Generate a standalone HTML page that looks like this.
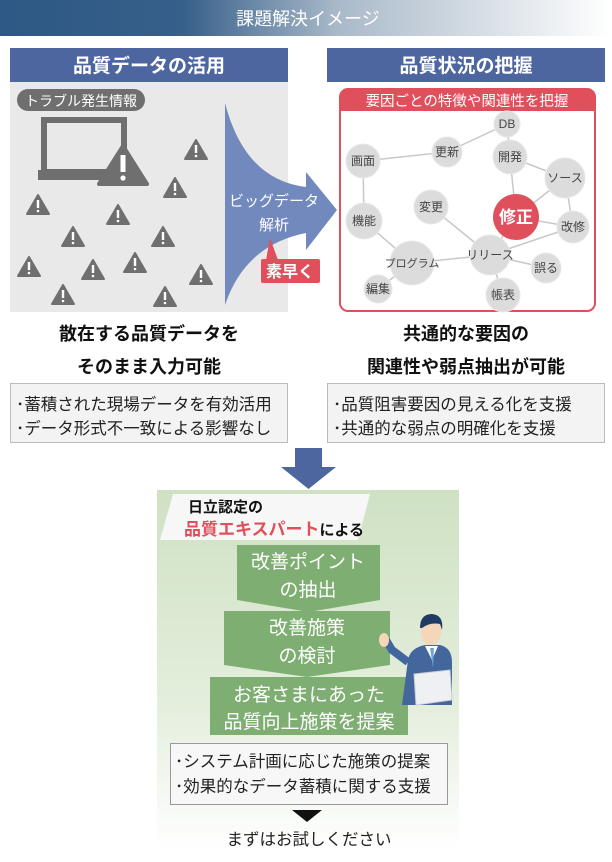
<!DOCTYPE html>
<html><head><meta charset="utf-8"><style>
html,body{margin:0;padding:0;background:#fff;}
svg{display:block;font-family:"Liberation Sans","Noto Sans CJK JP",sans-serif;}
</style></head><body>
<svg width="612" height="862" viewBox="0 0 612 862" xmlns="http://www.w3.org/2000/svg">
<defs>
<linearGradient id="hd" x1="0" x2="1" y1="0" y2="0">
<stop offset="0" stop-color="#2e5885"/><stop offset="0.3" stop-color="#375f8a"/><stop offset="0.55" stop-color="#a9b9c9"/><stop offset="1" stop-color="#ffffff"/>
</linearGradient>
<linearGradient id="gr" x1="0" x2="0" y1="0" y2="1">
<stop offset="0" stop-color="#cfe1c3"/><stop offset="0.6" stop-color="#e4eedd"/><stop offset="1" stop-color="#ffffff"/>
</linearGradient>
<g id="w"><path d="M0,-10 L11,9 L-11,9 Z" fill="#6f6f6f" stroke="#6f6f6f" stroke-width="2" stroke-linejoin="round"/><rect x="-1.2" y="-5" width="2.4" height="8" fill="#fff"/><circle cx="0" cy="6" r="1.3" fill="#fff"/></g>
</defs>
<rect x="0" y="0" width="612" height="36" fill="url(#hd)"/>
<text x="308" y="25" text-anchor="middle" fill="#fff" font-size="18">課題解決イメージ</text>

<rect x="10" y="48" width="278" height="34" fill="#4e66a0"/>
<text x="149" y="72" text-anchor="middle" fill="#fff" font-size="19" font-weight="bold">品質データの活用</text>
<rect x="10" y="82" width="278" height="230" fill="#e9e9e9"/>
<rect x="17" y="89" width="128" height="22" rx="11" fill="#6f6f6f"/>
<text x="81" y="106" text-anchor="middle" fill="#fff" font-size="14">トラブル発生情報</text>
<rect x="44" y="120" width="80" height="52" fill="none" stroke="#6f6f6f" stroke-width="6"/>
<rect x="38" y="170" width="70" height="10" fill="#6f6f6f"/>
<path d="M123,146 L147,184 L99,184 Z" fill="#6f6f6f" stroke="#6f6f6f" stroke-width="4" stroke-linejoin="round"/>
<rect x="120.5" y="155" width="5" height="17" fill="#fff"/><circle cx="123" cy="178" r="2.6" fill="#fff"/>
<use href="#w" x="196" y="150"/><use href="#w" x="175" y="188"/><use href="#w" x="38" y="205"/>
<use href="#w" x="118" y="215"/><use href="#w" x="73" y="237"/><use href="#w" x="163" y="237"/>
<use href="#w" x="29" y="267"/><use href="#w" x="93" y="270"/><use href="#w" x="135" y="263"/>
<use href="#w" x="201" y="275"/><use href="#w" x="63" y="295"/><use href="#w" x="165" y="297"/>
<path d="M225,103 Q245,180 306,187 L306,172 L337,210 L306,250 L306,233 Q245,245 225,305 Z" fill="#7189bd"/>
<text x="274" y="206" text-anchor="middle" fill="#fff" font-size="15">ビッグデータ</text>
<text x="274" y="230" text-anchor="middle" fill="#fff" font-size="15">解析</text>
<path d="M266,260 L270,238 L278,260 Z" fill="#e0505c"/>
<rect x="261" y="259" width="59" height="24" rx="2" fill="#e0505c"/>
<text x="290" y="277" text-anchor="middle" fill="#fff" font-size="16" font-weight="bold">素早く</text>

<rect x="327" y="48" width="278" height="34" fill="#4e66a0"/>
<text x="466" y="72" text-anchor="middle" fill="#fff" font-size="19" font-weight="bold">品質状況の把握</text>
<rect x="340" y="89" width="255" height="222" rx="8" fill="#fff" stroke="#e0505c" stroke-width="2"/>
<path d="M340,111 L340,97 Q340,89 348,89 L587,89 Q595,89 595,97 L595,111 Z" fill="#e0505c"/>
<text x="467" y="106" text-anchor="middle" fill="#fff" font-size="14.5">要因ごとの特徴や関連性を把握</text>
<g stroke="#c8c8c8" stroke-width="1.5">
<line x1="507" y1="124" x2="447" y2="152"/><line x1="507" y1="124" x2="510" y2="157"/>
<line x1="447" y1="152" x2="363" y2="161"/><line x1="363" y1="161" x2="364" y2="221"/>
<line x1="510" y1="157" x2="565" y2="178"/><line x1="510" y1="157" x2="516" y2="217"/>
<line x1="565" y1="178" x2="516" y2="217"/><line x1="565" y1="178" x2="573" y2="227"/>
<line x1="516" y1="217" x2="573" y2="227"/><line x1="516" y1="217" x2="490" y2="255"/>
<line x1="431" y1="207" x2="490" y2="255"/><line x1="364" y1="221" x2="412" y2="263"/>
<line x1="412" y1="263" x2="490" y2="255"/><line x1="412" y1="263" x2="378" y2="289"/>
<line x1="490" y1="255" x2="573" y2="227"/><line x1="490" y1="255" x2="546" y2="268"/>
<line x1="490" y1="255" x2="503" y2="295"/>
</g>
<g fill="#dcdcdc" stroke="#e8e8e8" stroke-width="1">
<circle cx="507" cy="124" r="13"/><circle cx="447" cy="152" r="15"/><circle cx="363" cy="161" r="17"/>
<circle cx="510" cy="157" r="17"/><circle cx="565" cy="178" r="20"/><circle cx="431" cy="207" r="17"/>
<circle cx="364" cy="221" r="18"/><circle cx="573" cy="227" r="16"/><circle cx="490" cy="255" r="20"/>
<circle cx="412" cy="263" r="22"/><circle cx="546" cy="268" r="15"/><circle cx="378" cy="289" r="14"/>
<circle cx="503" cy="295" r="17"/>
</g>
<circle cx="516" cy="217" r="23" fill="#e0505c"/>
<g font-size="12" fill="#444" text-anchor="middle">
<text x="507" y="128">DB</text><text x="447" y="156">更新</text><text x="363" y="165">画面</text>
<text x="510" y="161">開発</text><text x="565" y="182">ソース</text><text x="431" y="211">変更</text>
<text x="364" y="225">機能</text><text x="573" y="231">改修</text><text x="490" y="259">リリース</text>
<text x="412" y="267" font-size="11">プログラム</text><text x="546" y="272">誤る</text><text x="378" y="293">編集</text>
<text x="503" y="299">帳表</text>
</g>
<text x="516" y="223" text-anchor="middle" fill="#fff" font-size="17" font-weight="bold">修正</text>

<g font-size="18" font-weight="bold" fill="#111" text-anchor="middle">
<text x="149" y="340">散在する品質データを</text><text x="149" y="373">そのまま入力可能</text>
<text x="466" y="340">共通的な要因の</text><text x="466" y="373">関連性や弱点抽出が可能</text>
</g>
<rect x="10.5" y="383.5" width="277" height="59" fill="#f3f3f3" stroke="#bbb"/>
<rect x="327.5" y="383.5" width="277" height="59" fill="#f3f3f3" stroke="#bbb"/>
<g font-size="16.5" fill="#222">
<text x="16" y="410">･蓄積された現場データを有効活用</text><text x="16" y="434">･データ形式不一致による影響なし</text>
<text x="333" y="410">･品質阻害要因の見える化を支援</text><text x="333" y="434">･共通的な弱点の明確化を支援</text>
</g>
<path d="M295,448 L322,448 L322,467 L336,467 L308.5,489 L281,467 L295,467 Z" fill="#4e66a0"/>

<rect x="157" y="490" width="302" height="360" fill="url(#gr)"/>
<path d="M173,494 L370,494 L358,540 L160,540 Z" fill="#f7f7f7"/>
<text x="188" y="512" font-size="15" font-weight="bold" fill="#111">日立認定の</text>
<text x="184" y="535" font-size="17" font-weight="bold" fill="#e0505c">品質エキスパート<tspan font-size="15" fill="#111">による</tspan></text>
<path d="M237,545 L380,545 L380,600 L308.5,612 L237,600 Z" fill="#7eae72"/>
<path d="M224,611 L390,611 L390,665 L307,677 L224,665 Z" fill="#7eae72"/>
<rect x="210" y="677" width="198" height="58" fill="#7eae72"/>
<g font-size="19" fill="#fff" text-anchor="middle">
<text x="308" y="568">改善ポイント</text><text x="308" y="596">の抽出</text>
<text x="307" y="634">改善施策</text><text x="307" y="662">の検討</text>
<text x="309" y="701">お客さまにあった</text><text x="309" y="728">品質向上施策を提案</text>
</g>
<path d="M402,705 L408,660 Q410,648 425,645 L440,645 Q452,648 452,662 L452,705 Z" fill="#43679c"/>
<path d="M425,646 L432,660 L438,646 Z" fill="#fff"/>
<path d="M430,648 L434,648 L433,668 Z" fill="#6fa5d8"/>
<ellipse cx="431" cy="632" rx="10" ry="13" fill="#f5d6b8"/>
<path d="M420,628 Q420,614 432,614 Q444,615 442,630 L440,624 Q430,622 422,628 Z" fill="#1f3b63"/>
<path d="M408,662 L392,650 L386,640" stroke="#43679c" stroke-width="8" fill="none"/>
<ellipse cx="384" cy="640" rx="5" ry="7" fill="#f5d6b8"/>
<path d="M414,674 L450,670 L452,700 L416,705 Z" fill="#eef0f3" stroke="#c9ccd0"/>
<rect x="170.5" y="743.5" width="277" height="61" fill="#f7f7f7" stroke="#999"/>
<g font-size="16.5" fill="#222">
<text x="175" y="767">･システム計画に応じた施策の提案</text><text x="175" y="792">･効果的なデータ蓄積に関する支援</text>
</g>
<path d="M292,810 L322,810 L307,822 Z" fill="#111"/>
<text x="309" y="845" text-anchor="middle" font-size="16.5" fill="#222">まずはお試しください</text>
</svg>
</body></html>
